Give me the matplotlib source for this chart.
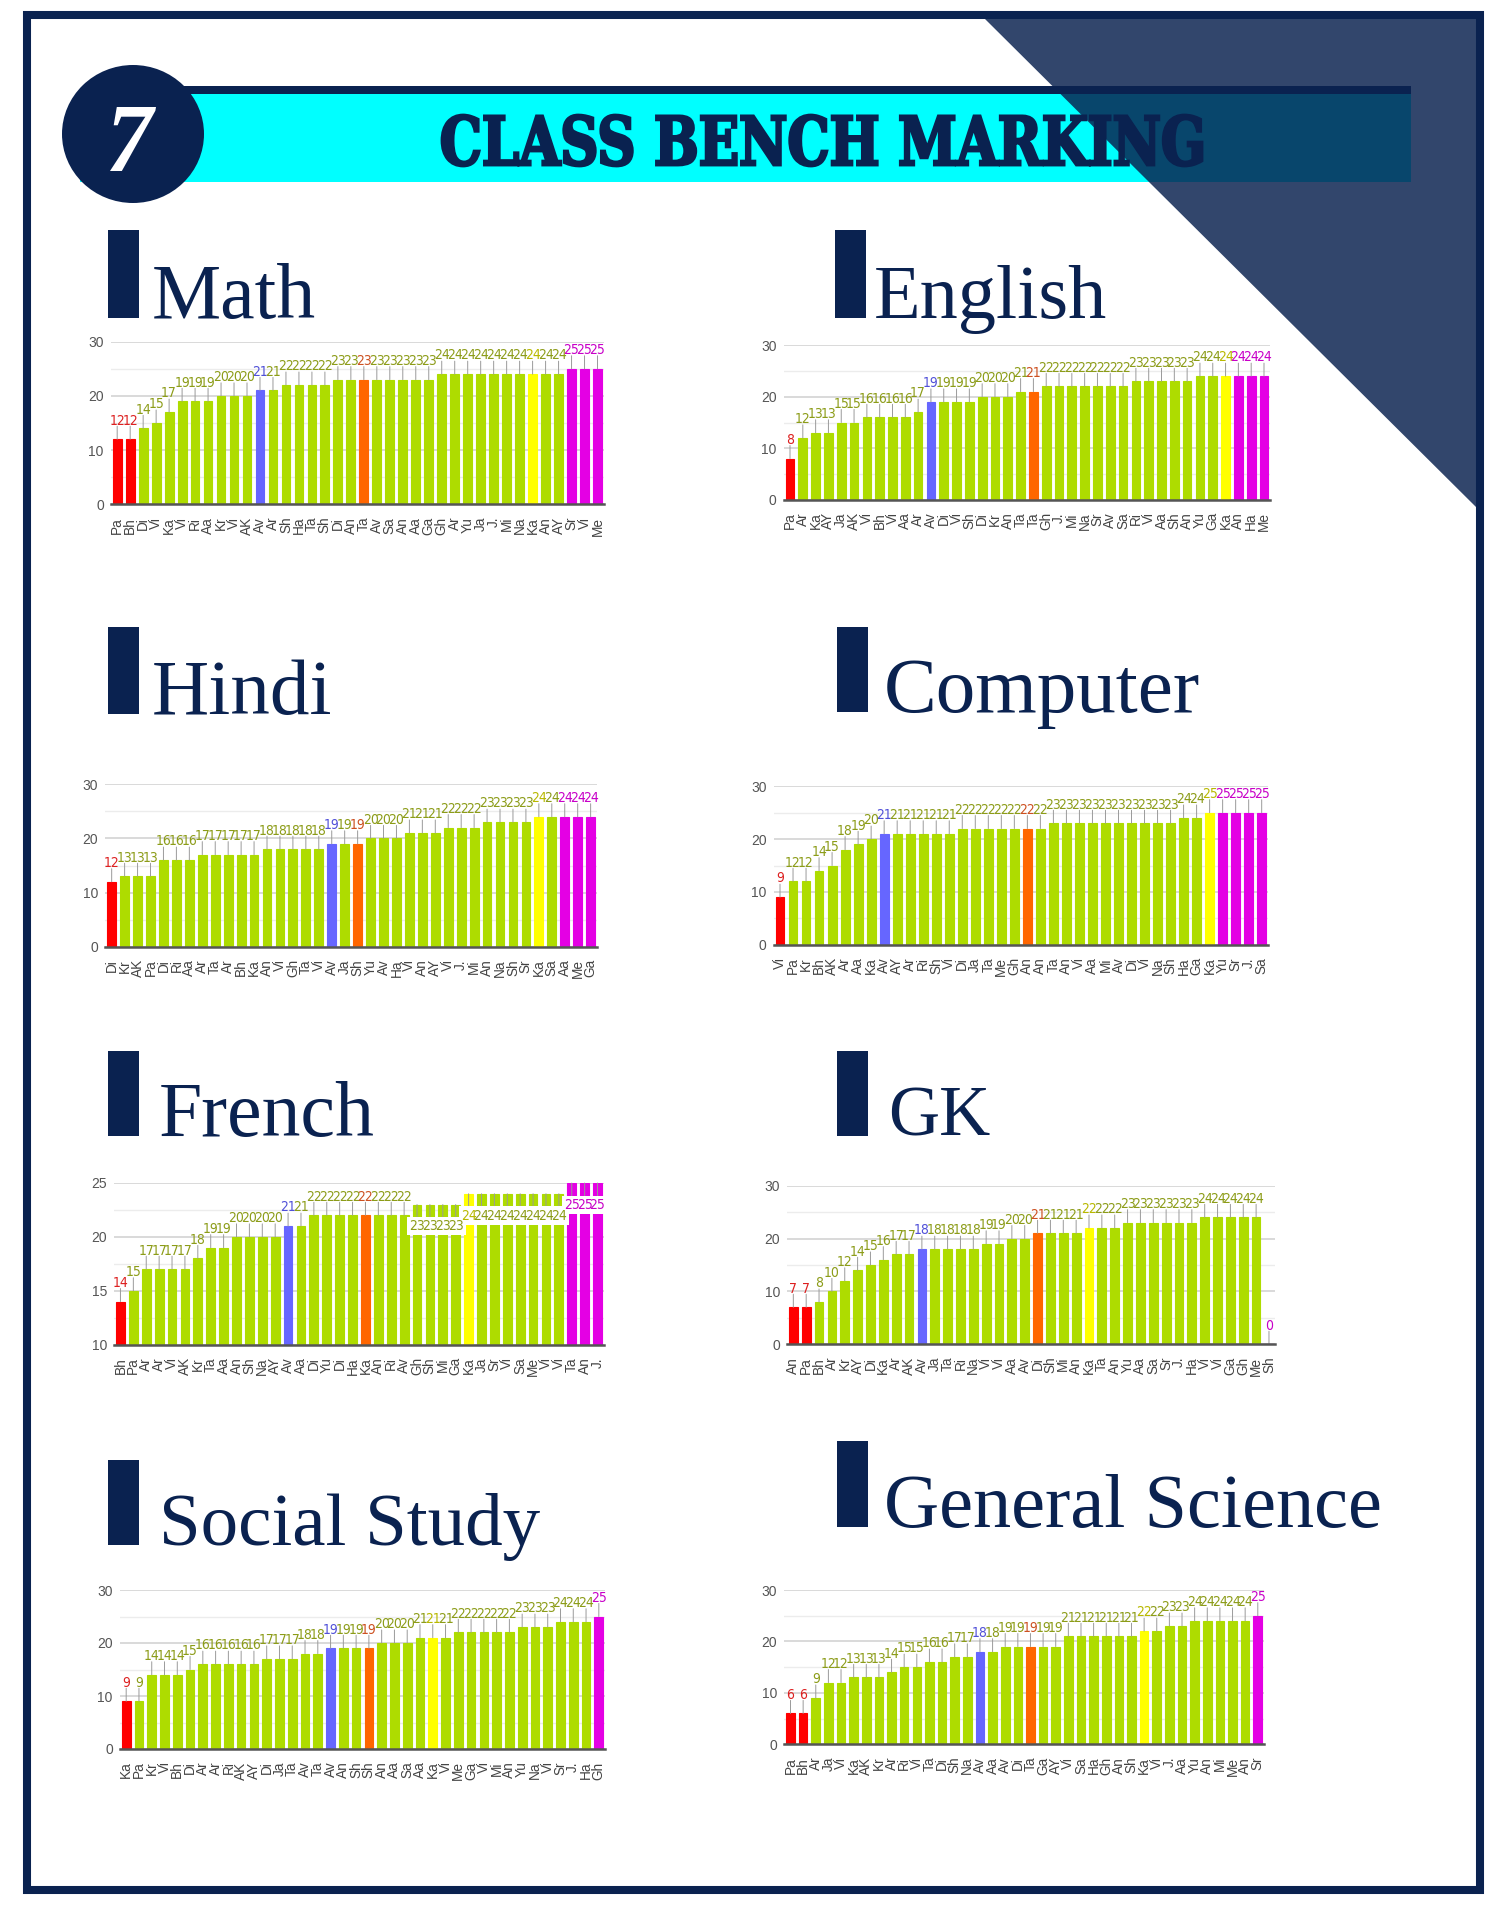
import os
import numpy as np
import matplotlib
matplotlib.use("Agg")
import matplotlib.pyplot as plt
from matplotlib.patches import Rectangle, Ellipse, Polygon, PathPatch
from matplotlib.textpath import TextPath
from matplotlib.font_manager import FontProperties, fontManager
from matplotlib.transforms import Affine2D
from matplotlib.ticker import MultipleLocator

W, H = 1500, 1920

# ---------------- data ----------------
math_names = ["Pa", "Bh", "Di", "Vi", "Ka", "Vi", "Ri", "Aa", "Kr", "Vi", "AK", "Av", "Ar", "Sh", "Ha", "Ta", "Sh", "Di", "An",
              "Ta", "Av", "Sa", "An", "Aa", "Ga", "Gh", "Ar", "Yu", "Ja", "J.", "Mi", "Na", "Ka", "An", "AY", "Sr", "Vi", "Me"]
math_scores = [12, 12, 14, 15, 17, 19, 19, 19, 20, 20, 20, 21, 21, 22, 22, 22, 22, 23, 23,
               23, 23, 23, 23, 23, 23, 24, 24, 24, 24, 24, 24, 24, 24, 24, 24, 25, 25, 25]

english_names = ["Pa", "Ar", "Ka", "AY", "Ja", "AK", "Vi", "Bh", "Vi", "Aa", "Ar", "Av", "Di", "Vi", "Sh", "Di", "Kr", "An", "Ta",
                 "Ta", "Gh", "J.", "Mi", "Na", "Sr", "Av", "Sa", "Ri", "Vi", "Aa", "Sh", "An", "Yu", "Ga", "Ka", "An", "Ha", "Me"]
english_scores = [8, 12, 13, 13, 15, 15, 16, 16, 16, 16, 17, 19, 19, 19, 19, 20, 20, 20, 21,
                  21, 22, 22, 22, 22, 22, 22, 22, 23, 23, 23, 23, 23, 24, 24, 24, 24, 24, 24]

hindi_names = ["Di", "Kr", "AK", "Pa", "Di", "Ri", "Aa", "Ar", "Ta", "Ar", "Bh", "Ka", "An", "Vi", "Gh", "Ta", "Vi", "Av", "Ja",
               "Sh", "Yu", "Av", "Ha", "Vi", "An", "AY", "Vi", "J.", "Mi", "An", "Na", "Sh", "Sr", "Ka", "Sa", "Aa", "Me", "Ga"]
hindi_scores = [12, 13, 13, 13, 16, 16, 16, 17, 17, 17, 17, 17, 18, 18, 18, 18, 18, 19, 19,
                19, 20, 20, 20, 21, 21, 21, 22, 22, 22, 23, 23, 23, 23, 24, 24, 24, 24, 24]

computer_names = ["Vi", "Pa", "Kr", "Bh", "AK", "Ar", "Aa", "Ka", "Av", "AY", "Ar", "Ri", "Sh", "Vi", "Di", "Ja", "Ta", "Me", "Gh",
                  "An", "An", "Ta", "An", "Vi", "Aa", "Mi", "Av", "Di", "Vi", "Na", "Sh", "Ha", "Ga", "Ka", "Yu", "Sr", "J.", "Sa"]
computer_scores = [9, 12, 12, 14, 15, 18, 19, 20, 21, 21, 21, 21, 21, 21, 22, 22, 22, 22, 22,
                   22, 22, 23, 23, 23, 23, 23, 23, 23, 23, 23, 23, 24, 24, 25, 25, 25, 25, 25]

french_names = ["Bh", "Pa", "Ar", "Ar", "Vi", "AK", "Kr", "Ta", "Aa", "An", "Sh", "Na", "AY", "Av", "Aa", "Di", "Yu", "Di", "Ha",
                "Ka", "An", "Ri", "Av", "Gh", "Sh", "Mi", "Ga", "Ka", "Ja", "Sr", "Vi", "Sa", "Me", "Vi", "Vi", "Ta", "An", "J."]
french_scores = [14, 15, 17, 17, 17, 17, 18, 19, 19, 20, 20, 20, 20, 21, 21, 22, 22, 22, 22,
                 22, 22, 22, 22, 23, 23, 23, 23, 24, 24, 24, 24, 24, 24, 24, 24, 25, 25, 25]

gk_names = ["An", "Pa", "Bh", "Ar", "Kr", "AY", "Di", "Ka", "Ar", "AK", "Av", "Ja", "Ta", "Ri", "Na", "Vi", "Vi", "Aa", "Av",
            "Di", "Sh", "Mi", "An", "Ka", "Ta", "An", "Yu", "Aa", "Sa", "Sr", "J.", "Ha", "Vi", "Vi", "Ga", "Gh", "Me", "Sh"]
gk_scores = [7, 7, 8, 10, 12, 14, 15, 16, 17, 17, 18, 18, 18, 18, 18, 19, 19, 20, 20,
             21, 21, 21, 21, 22, 22, 22, 23, 23, 23, 23, 23, 23, 24, 24, 24, 24, 24, 0]

social_names = ["Ka", "Pa", "Kr", "Vi", "Bh", "Di", "Ar", "Ar", "Ri", "AK", "AY", "Di", "Ja", "Ta", "Av", "Ta", "Av", "An", "Sh",
                "Sh", "An", "Aa", "Sa", "Aa", "Ka", "Vi", "Me", "Ga", "Vi", "Mi", "An", "Yu", "Na", "Vi", "Sr", "J.", "Ha", "Gh"]
social_scores = [9, 9, 14, 14, 14, 15, 16, 16, 16, 16, 16, 17, 17, 17, 18, 18, 19, 19, 19,
                 19, 20, 20, 20, 21, 21, 21, 22, 22, 22, 22, 22, 23, 23, 23, 24, 24, 24, 25]

science_names = ["Pa", "Bh", "Ar", "Ja", "Vi", "Ka", "AK", "Kr", "Ar", "Ri", "Vi", "Ta", "Di", "Sh", "Na", "Av", "Aa", "Av", "Di",
                 "Ta", "Ga", "AY", "Vi", "Sa", "Ha", "Gh", "An", "Sh", "Ka", "Vi", "J.", "Aa", "Yu", "An", "Mi", "Me", "An", "Sr"]
science_scores = [6, 6, 9, 12, 12, 13, 13, 13, 14, 15, 15, 16, 16, 17, 17, 18, 18, 19, 19,
                  19, 19, 19, 21, 21, 21, 21, 21, 21, 22, 22, 23, 23, 24, 24, 24, 24, 24, 25]

# highlighted bars (index positions): lowest, "Av", middle, "Ka", top
math_hl = {"red": [0, 1], "blue": [11], "orange": [19], "yellow": [32], "magenta": [35, 36, 37]}
english_hl = {"red": [0], "blue": [11], "orange": [19], "yellow": [34], "magenta": [35, 36, 37]}
hindi_hl = {"red": [0], "blue": [17], "orange": [19], "yellow": [33], "magenta": [35, 36, 37]}
computer_hl = {"red": [0], "blue": [8], "orange": [19], "yellow": [33], "magenta": [34, 35, 36, 37]}
french_hl = {"red": [0], "blue": [13], "orange": [19], "yellow": [27], "magenta": [35, 36, 37]}
gk_hl = {"red": [0, 1], "blue": [10], "orange": [19], "yellow": [23], "magenta": [37]}
social_hl = {"red": [0], "blue": [16], "orange": [19], "yellow": [24], "magenta": [37]}
science_hl = {"red": [0, 1], "blue": [15], "orange": [19], "yellow": [28], "magenta": [37]}

# ---------------- style ----------------
NAVY = "#0a2250"
BAR = {"green": "#aedc00", "red": "#ff0000", "blue": "#6666ff", "orange": "#ff6600",
       "yellow": "#ffff00", "magenta": "#e400e4"}
LAB = {"green": "#8c9c18", "red": "#dd2020", "blue": "#5050d8", "orange": "#cc5020",
       "yellow": "#b8b800", "magenta": "#c800c8"}

names_avail = {f.name for f in fontManager.ttflist}
SANS = "Liberation Sans" if "Liberation Sans" in names_avail else "DejaVu Sans"
SERIF = "Liberation Serif" if "Liberation Serif" in names_avail else "DejaVu Serif"

# look for a narrow sans for the value labels (like Arial Narrow), else plain sans smaller
narrow_file = None
for key in ["LiberationSansNarrow-Regular", "DejaVuSansCondensed.ttf", "NotoSans-Condensed.ttf",
            "RobotoCondensed-Regular", "OpenSans-CondensedRegular", "NotoSans-SemiCondensed.ttf"]:
    for f in fontManager.ttflist:
        if key in os.path.basename(f.fname):
            narrow_file = f.fname
            break
    if narrow_file:
        break
if narrow_file:
    NUM_FONT = FontProperties(fname=narrow_file, size=10)
else:
    NUM_FONT = FontProperties(family=SANS, size=8)

fig = plt.figure(figsize=(W / 100, H / 100), dpi=100)
fig.patch.set_facecolor("white")
# pixel coordinates, origin top-left
px = Affine2D().scale(1 / W, -1 / H).translate(0, 1) + fig.transFigure


def path_text(s, box, prop, color, z=5, lw=0):
    x0, y0, x1, y1 = box
    tp = TextPath((0, 0), s, size=100, prop=prop)
    e = tp.get_extents()
    t = Affine2D().translate(-e.x0, -e.y0).scale((x1 - x0) / e.width, -(y1 - y0) / e.height).translate(x0, y1)
    fig.add_artist(PathPatch(t.transform_path(tp), transform=px, fc=color, ec=color, lw=lw, zorder=z))


def bench(ax, names, scores, hl, lo, hi, step, flip_at=None):
    n = len(scores)
    x = np.arange(n)
    cols = [BAR["green"]] * n
    labcols = [LAB["green"]] * n
    for key, idx in hl.items():
        for i in idx:
            cols[i] = BAR[key]
            labcols[i] = LAB[key]
    ax.bar(x, scores, width=0.68, color=cols, edgecolor=cols, linewidth=0.8, zorder=2)
    ax.set_xlim(-0.5, n - 0.5)
    ax.set_ylim(lo, hi)
    ax.yaxis.set_major_locator(MultipleLocator(step))
    ax.yaxis.set_minor_locator(MultipleLocator(step / 2))
    ax.grid(which="major", axis="y", color="#cfcfcf", lw=1.1, zorder=0)
    ax.grid(which="minor", axis="y", color="#ececec", lw=1.0, zorder=0)
    ax.set_axisbelow(True)
    for s in ["top", "right", "left"]:
        ax.spines[s].set_visible(False)
    ax.spines["bottom"].set_color("#555555")
    ax.spines["bottom"].set_linewidth(1.8)
    ax.spines["bottom"].set_zorder(3)
    ax.set_xticks(x)
    ax.set_xticklabels(names, rotation=90, fontsize=9.8, color="#444444", family=SANS)
    ax.tick_params(axis="x", length=0, pad=9)
    ax.tick_params(axis="y", which="both", length=0, pad=5, labelsize=10, labelcolor="#555555")
    for lab in ax.get_yticklabels():
        lab.set_family(SANS)
    ax.patch.set_alpha(0)
    # value labels with thin leader lines; flipped inside the bar near the top of the French chart
    for i, v in enumerate(scores):
        inside = flip_at is not None and v >= flip_at
        d = -1 if inside else 1
        ax.annotate("", xy=(i, v), xytext=(0, 9.4 * d), textcoords="offset points",
                    arrowprops=dict(arrowstyle="-", color="#9a9a9a", lw=0.7, shrinkA=0, shrinkB=0),
                    annotation_clip=False, zorder=3)
        if inside:
            # white knock-out box under the label, kept below every coloured label
            ax.annotate(str(v), xy=(i, v), xytext=(0, 10.6 * d), textcoords="offset points",
                        ha="center", va="top", color="white", fontproperties=NUM_FONT,
                        bbox=dict(boxstyle="square,pad=0.15", fc="white", ec="none"),
                        annotation_clip=False, zorder=3.5)
        ax.annotate(str(v), xy=(i, v), xytext=(0, 10.6 * d), textcoords="offset points",
                    ha="center", va="top" if inside else "baseline", color=labcols[i],
                    fontproperties=NUM_FONT, annotation_clip=False, zorder=4)


# ---------------- page frame & header ----------------
fig.add_artist(Rectangle((80, 93), 1331, 89, transform=px, fc="#00ffff", ec="none", zorder=1))
fig.add_artist(Rectangle((183, 86), 1228, 8, transform=px, fc=NAVY, ec="none", zorder=1))
fig.add_artist(Ellipse((133, 134), 142, 138, transform=px, fc=NAVY, ec="none", zorder=2))
path_text("7", (110, 107, 156, 171), FontProperties(family=SERIF, weight="bold", style="italic"), "white", z=3)
path_text("CLASS BENCH MARKING", (442, 115, 1202, 166), FontProperties(family="DejaVu Serif", weight="bold"),
          NAVY, z=3, lw=2.0)

# ---------------- subject panels ----------------
# heading, bar box (x, top, bottom), text x, fontsize, axes box (left, right, top, bottom)
panels = [
    ("Math", math_names, math_scores, math_hl, 0, 30, 10, None,
     (108, 230, 318), 152, 56, (110.7, 604, 341.7, 504.3)),
    ("English", english_names, english_scores, english_hl, 0, 30, 10, None,
     (835, 230, 318), 874, 55, (783.6, 1270.4, 345.3, 499.7)),
    ("Hindi", hindi_names, hindi_scores, hindi_hl, 0, 30, 10, None,
     (108, 627, 714), 152, 57, (105.2, 597.1, 784.3, 946.7)),
    ("Computer", computer_names, computer_scores, computer_hl, 0, 30, 10, None,
     (837, 627, 712), 884, 57, (773.5, 1268.2, 786.3, 944.7)),
    ("French", french_names, french_scores, french_hl, 10, 25, 5, 23,
     (108, 1051, 1136), 159, 56, (114, 604, 1183, 1344.7)),
    ("GK", gk_names, gk_scores, gk_hl, 0, 30, 10, None,
     (837, 1051, 1136), 888, 51, (786.9, 1275.4, 1185.7, 1344.3)),
    ("Social Study", social_names, social_scores, social_hl, 0, 30, 10, None,
     (108, 1460, 1545), 159, 54, (119.8, 605.2, 1590, 1749)),
    ("General Science", science_names, science_scores, science_hl, 0, 30, 10, None,
     (837, 1441, 1527), 884, 55, (784.2, 1264.1, 1590, 1744.3)),
]

for (title, nm, sc, hl, lo, hi, step, flip, hbar, tx, fs, box) in panels:
    bx, btop, bbot = hbar
    fig.add_artist(Rectangle((bx, btop), 31, bbot - btop, transform=px, fc=NAVY, ec="none", zorder=1))
    fig.text(tx / W, 1 - bbot / H, title, fontsize=fs, family=SERIF, color=NAVY, va="baseline", ha="left")
    l, r, t, b = box
    ax = fig.add_axes([l / W, 1 - b / H, (r - l) / W, (b - t) / H])
    bench(ax, nm, sc, hl, lo, hi, step, flip)

# dark corner triangle overlapping the header and english chart
fig.add_artist(Polygon([(985, 19), (1476, 19), (1476, 507)], closed=True, transform=px,
                       fc=NAVY, ec="none", alpha=0.84, zorder=10))
# outer frame
fig.add_artist(Rectangle((27, 15), 1453, 1875, transform=px, fc="none", ec=NAVY, lw=5.8, zorder=11))

fig.savefig("out.png", dpi=100, facecolor="white")
